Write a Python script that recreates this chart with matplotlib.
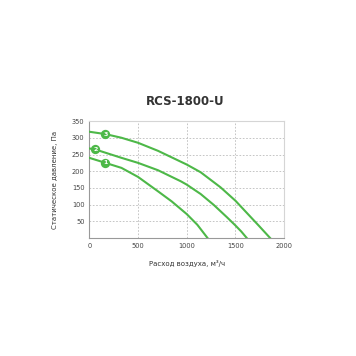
import numpy as np
import matplotlib.pyplot as plt

# кривые вентилятора RCS-1800-U
q1 = [0, 165, 330, 500, 705, 845, 1000, 1109, 1215]
p1 = [240, 225, 210, 183, 140, 110, 72, 40, 0]

q2 = [0, 62, 330, 500, 705, 939, 1000, 1143, 1279, 1415, 1500, 1560, 1618]
p2 = [268, 265, 240, 225, 203, 170, 160, 132, 99, 62, 38, 20, 0]

q3 = [0, 165, 330, 500, 705, 1000, 1143, 1347, 1500, 1635, 1738, 1858]
p3 = [318, 311, 300, 285, 261, 220, 197, 152, 112, 70, 38, 0]

# номера кривых
mark_q = [165, 62, 165]
mark_p = [225, 265, 311]
mark_txt = ['1', '2', '3']

xticks = [0, 500, 1000, 1500, 2000]
yticks = [50, 100, 150, 200, 250, 300, 350]

green = '#4db848'

fig = plt.figure(figsize=(3.56, 3.56), dpi=100)
ax = fig.add_axes([0.251, 0.331, 0.547, 0.329])

for q, p in [(q1, p1), (q2, p2), (q3, p3)]:
    ax.plot(q, p, color=green, lw=1.5, solid_joinstyle='round', zorder=3)

for i in range(len(mark_q)):
    ax.scatter(mark_q[i], mark_p[i], s=45, color=green, zorder=4, linewidths=0)
    ax.text(mark_q[i], mark_p[i], mark_txt[i], color='white', fontsize=4.5,
            fontweight='bold', ha='center', va='center', zorder=5)

ax.set_xlim(0, 2000)
ax.set_ylim(0, 350)
ax.set_xticks(xticks)
ax.set_yticks(yticks)
ax.tick_params(length=0, labelsize=4.8, labelcolor='#444444', pad=3.5)
ax.grid(True, linestyle=(0, (2, 2)), color='#bbbbbb', lw=0.6)
for s in ax.spines:
    ax.spines[s].set_color('#d5d5d5')
    ax.spines[s].set_linewidth(0.8)
ax.spines['left'].set_color('#999999')
ax.spines['bottom'].set_color('#999999')

ax.set_xlabel('Расход воздуха, м³/ч', fontsize=5, color='#333333', labelpad=8)
ax.set_ylabel('Статическое давление, Па', fontsize=5, color='#333333', labelpad=10)

fig.text(0.52, 0.715, 'RCS-1800-U', ha='center', va='center', fontsize=8.5,
         fontweight='bold', color='#333333')

fig.savefig('out.png', dpi=100, facecolor='white')
